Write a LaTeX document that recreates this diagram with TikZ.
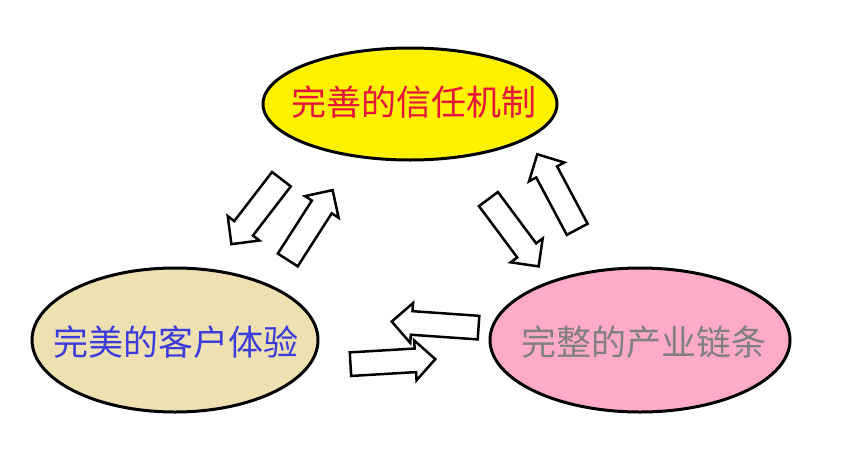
\documentclass[tikz,border=0pt]{standalone}
\usepackage{fontspec}
\newfontfamily\cjk{Noto Sans CJK SC}
\usetikzlibrary{shapes.arrows,shapes.geometric}
\begin{document}
\begin{tikzpicture}[x=1pt,y=-1pt,
  blk/.style={single arrow,draw=black,fill=white,line width=2.5pt,inner xsep=0pt,inner ysep=9pt,minimum width=40pt,single arrow head indent=0pt,minimum height=#1}]
\useasboundingbox (0,0) rectangle (848,458);
\fill[white] (0,0) rectangle (848,458);
\node[draw=black,line width=3pt,ellipse,fill={rgb,255:red,255;green,242;blue,0},minimum width=294pt,minimum height=112pt,inner sep=0pt] (t) at (410,104) {};
\node[text={rgb,255:red,230;green,20;blue,60},font=\cjk\fontsize{35}{36}\selectfont] (tt) at (414,102) {完善的信任机制};
\node[draw=black,line width=3pt,ellipse,fill={rgb,255:red,238;green,224;blue,176},minimum width=286pt,minimum height=144pt,inner sep=0pt] (l) at (175,340) {};
\node[text={rgb,255:red,60;green,60;blue,220},font=\cjk\fontsize{35}{36}\selectfont] (lt) at (176,342) {完美的客户体验};
\node[draw=black,line width=3pt,ellipse,fill={rgb,255:red,255;green,170;blue,200},minimum width=300pt,minimum height=144pt,inner sep=0pt] (r) at (640,340) {};
\node[text={rgb,255:red,128;green,128;blue,128},font=\cjk\fontsize{35}{36}\selectfont] (rt) at (644,342) {完整的产业链条};
\node[blk=82pt,rotate=232.4] (a1) at (260,207) {};
\node[blk=83pt,rotate=57.3] (a2) at (307,230) {};
\node[blk=84pt,rotate=-53.3] (a3) at (510,228) {};
\node[blk=85pt,rotate=118] (a4) at (560,197) {};
\node[blk=87pt,rotate=176] (a5) at (441,325) {};
\node[blk=85pt,rotate=3.4] (a6) at (387,362) {};
\end{tikzpicture}
\end{document}
